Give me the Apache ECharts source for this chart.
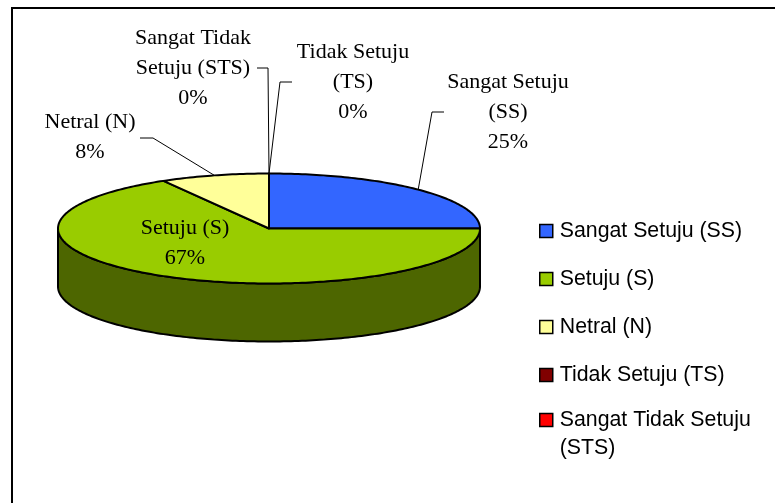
<!DOCTYPE html>
<html><head><meta charset="utf-8">
<style>html,body{margin:0;padding:0;background:#fff}#c{width:775px;height:503px}</style>
<script src="https://cdn.jsdelivr.net/npm/echarts@6/dist/echarts.min.js"></script>
</head><body><div id="c"></div>
<script>
var categories = ['Sangat Setuju (SS)','Setuju (S)','Netral (N)','Tidak Setuju (TS)','Sangat Tidak Setuju (STS)'];
var counts = [3,8,1,0,0];
var colors = ['#3366FF','#99CC00','#FFFF99','#800000','#FF0000'];
var wallColors = ['#1A3380','#4D6600','#808050','#400000','#800000'];
var labelLines = [['Sangat Setuju','(SS)'],['Setuju (S)'],['Netral (N)'],['Tidak Setuju','(TS)'],['Sangat Tidak','Setuju (STS)']];

var total = counts.reduce(function(a,b){return a+b;},0);
var PIE = {cx:269, cy:228.5, rx:211, ry:55, depth:58};
// label layout: text centre, and leader elbow points
var labelLayout = [
  {x:508,y:112,leader:[[444,112],[432,112]]},
  {x:185,y:243,leader:null},
  {x:90,y:137,leader:[[140,138],[153,138]]},
  {x:353,y:82,leader:[[292,82],[280,82]]},
  {x:193,y:68,leader:[[257,68],[268,68]]}
];
function pt(deg,dy){var r=deg*Math.PI/180;return [PIE.cx+PIE.rx*Math.sin(r),PIE.cy-PIE.ry*Math.cos(r)+(dy||0)];}
function arc(a,b,dy){var n=Math.max(1,Math.ceil(Math.abs(b-a))),o=[];for(var i=0;i<=n;i++)o.push(pt(a+(b-a)*i/n,dy));return o;}
function startOf(idx){var s=0;for(var i=0;i<idx;i++)s+=counts[i];return s/total*360;}

function makeRender(idx){
  return function(params,api){
    var v=api.value(0),a0=startOf(idx),a1=a0+v/total*360,ch=[];
    var stroke={stroke:'#000',lineWidth:2,lineJoin:'round'};
    if(v>0){
      var w0=Math.max(a0,90),w1=Math.min(a1,270);
      if(w1>w0){
        ch.push({type:'polygon',shape:{points:arc(w0,w1,0).concat(arc(w1,w0,PIE.depth))},
          style:Object.assign({fill:wallColors[idx]},stroke)});
      }
      ch.push({type:'polygon',shape:{points:[[PIE.cx,PIE.cy]].concat(arc(a0,a1,0))},
        style:Object.assign({fill:colors[idx]},stroke)});
    }
    var L=labelLayout[idx];
    if(L.leader){
      ch.push({type:'polyline',shape:{points:L.leader.concat([pt((a0+a1)/2)])},
        style:{fill:null,stroke:'#000',lineWidth:1},z2:5});
    }
    var pct=Math.round(v/total*100)+'%';
    ch.push({type:'text',z2:10,style:{x:L.x,y:L.y,text:labelLines[idx].concat([pct]).join('\n'),
      fill:'#000',font:'22px "Liberation Serif"',lineHeight:30,align:'center',verticalAlign:'middle'}});
    return {type:'group',children:ch};
  };
}

var series = categories.map(function(name,i){
  return {type:'custom',name:name,coordinateSystem:'none',silent:true,animation:false,
    itemStyle:{color:colors[i]},data:[[counts[i]]],renderItem:makeRender(i)};
});

var legendBase = {
  orient:'vertical',padding:0,left:539,
  icon:'rect',itemWidth:13,itemHeight:13,itemGap:24,
  itemStyle:{borderColor:'#000',borderWidth:1.5},
  selectedMode:false
};
var legendText = {color:'#000',fontFamily:'"Liberation Sans"',fontSize:21.3,padding:[0,0,0,2]};

var chart = echarts.init(document.getElementById('c'),null,{renderer:'canvas'});
chart.setOption({
  animation:false,
  backgroundColor:'#fff',
  graphic:[{type:'rect',shape:{x:12,y:8,width:800,height:600},style:{fill:null,stroke:'#000',lineWidth:2},silent:true}],
  legend:[
    Object.assign({},legendBase,{top:219,data:categories.slice(0,4),
      textStyle:Object.assign({lineHeight:24},legendText)}),
    Object.assign({},legendBase,{top:378,width:230,data:categories.slice(4),
      formatter:function(n){return '\n'+n.replace(' (','\n(');},
      textStyle:Object.assign({lineHeight:28},legendText)})
  ],
  series:series
});
</script></body></html>
